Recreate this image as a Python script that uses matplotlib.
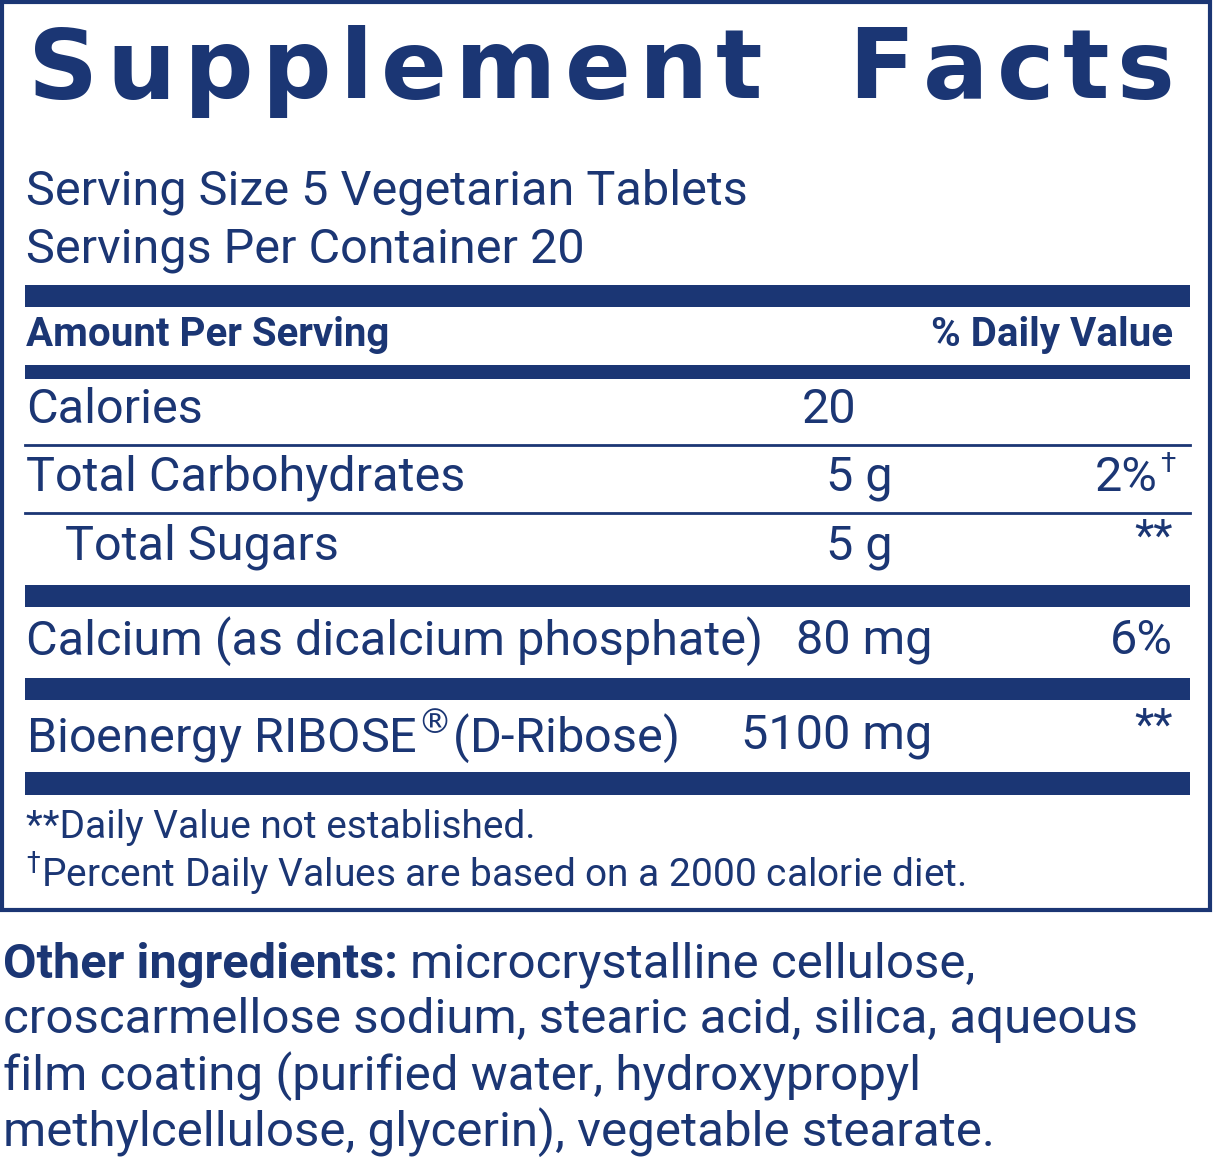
import matplotlib.pyplot as plt
from matplotlib.patches import Rectangle

navy = '#1b3674'
body = ['Roboto', 'DejaVu Sans']

title = "Supplement Facts"
serving_lines = ["Serving Size 5 Vegetarian Tablets", "Servings Per Container 20"]
nutrients = ["Calories", "Total Carbohydrates", "Total Sugars",
             "Calcium (as dicalcium phosphate)", "Bioenergy RIBOSE$^{\u00ae}$(D-Ribose)"]
amounts = ["20", "5 g", "5 g", "80 mg", "5100 mg"]
daily_values = ["", "2%", "**", "6%", "**"]
footnotes = ["**Daily Value not established.",
             "$^{\u2020}$Percent Daily Values are based on a 2000 calorie diet."]
ingredients = ["microcrystalline cellulose,",
               "croscarmellose sodium, stearic acid, silica, aqueous",
               "film coating (purified water, hydroxypropyl",
               "methylcellulose, glycerin), vegetable stearate."]

W, H = 1214, 1164
fig = plt.figure(figsize=(W / 100, H / 100), dpi=100)
ax = fig.add_axes([0, 0, 1, 1])
ax.set_xlim(0, W)
ax.set_ylim(H, 0)
ax.axis('off')
fig.canvas.draw()
r = fig.canvas.get_renderer()

# outer box
ax.add_patch(Rectangle((2, 2), 1208, 908, fill=False, ec=navy, lw=3))

# title with letter spacing: measure glyphs, then spread to fit 28..1175
widths = []
for ch in title:
    t = ax.text(0, 0, ch if ch != ' ' else 'n', fontsize=70, fontweight='bold', family='DejaVu Sans')
    widths.append(t.get_window_extent(r).width)
    t.remove()
gap = (1175 - 28 - sum(widths)) / (len(title) - 1)
x = 28
for ch, w in zip(title, widths):
    if ch != ' ':
        ax.text(x, 72, ch, fontsize=70, fontweight='bold', color=navy, va='center',
                ha='left', family='DejaVu Sans')
    x += w + gap

for i, line in enumerate(serving_lines):
    ax.text(26, 192 + 58 * i, line, fontsize=35, color=navy, va='center', family=body)

# thick bars
for y0, h in [(285, 22), (365, 14), (585, 22), (678, 22), (772, 23)]:
    ax.add_patch(Rectangle((25, y0), 1165, h, color=navy, lw=0))
# thin lines
for y in [445, 513]:
    ax.plot([25, 1190], [y, y], color=navy, lw=2)

ax.text(26, 335, "Amount Per Serving", fontsize=29, fontweight='bold', color=navy,
        va='center', family=body)
ax.text(1173, 335, "% Daily Value", fontsize=29, fontweight='bold', color=navy,
        va='center', ha='right', family=body)

row_y = [410, 478, 547, 641, 736]
name_x = [26, 26, 65, 26, 26]
amt_right = [856, 893, 893, 932, 932]
for name, amt, dv, y, nx, ar in zip(nutrients, amounts, daily_values, row_y, name_x, amt_right):
    ax.text(nx, y, name, fontsize=35, color=navy, va='center', family=body)
    ax.text(ar, y, amt, fontsize=35, color=navy, va='center', ha='right', family=body)
    if dv == "2%":
        ax.text(1158, y, dv, fontsize=35, color=navy, va='center', ha='right', family=body)
        ax.text(1160, y - 14, "\u2020", fontsize=20, color=navy, va='center', family=body)
    elif dv:
        ax.text(1173, y - 8 if dv == "**" else y, dv, fontsize=32 if dv == "**" else 35,
                color=navy, va='center', ha='right', family=body)

for i, line in enumerate(footnotes):
    ax.text(26, 828 + 45 * i, line, fontsize=28, color=navy, va='center', family=body)

# other ingredients
t = ax.text(3, 965, "Other ingredients:", fontsize=35, fontweight='bold', color=navy,
            va='center', family=body)
bb = t.get_window_extent(r)
ax.text(bb.x1 + 12, 965, ingredients[0], fontsize=35.5, color=navy, va='center', family=body)
for i, line in enumerate(ingredients[1:]):
    ax.text(3, 1020 + 56 * i, line, fontsize=35.5, color=navy, va='center', family=body)

fig.savefig('out.png', dpi=100, facecolor='white')
